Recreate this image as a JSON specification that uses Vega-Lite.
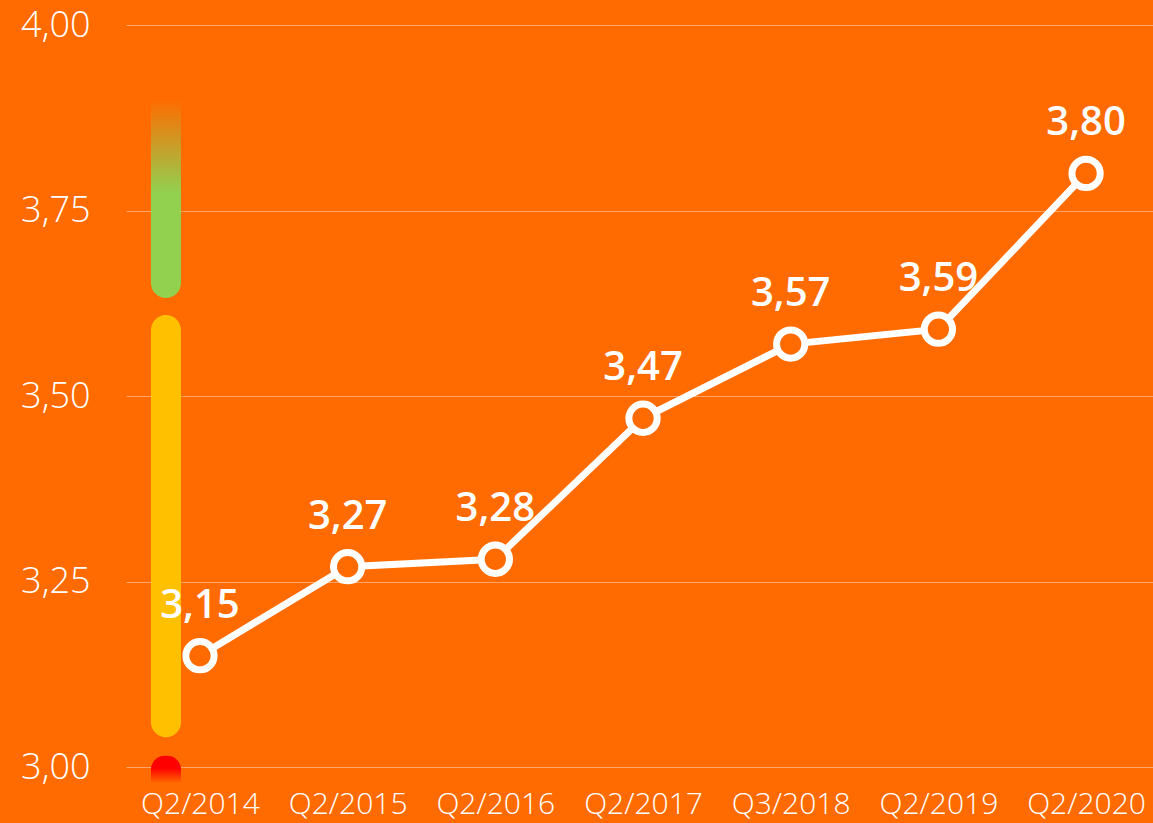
{
  "$schema": "https://vega.github.io/schema/vega-lite/v6.json",
  "width": 1027,
  "height": 742,
  "autosize": {"type": "none"},
  "padding": {"left": 126, "top": 25, "right": 0, "bottom": 56},
  "background": "#FF6B00",
  "config": {
    "view": {"stroke": null},
    "locale": {"number": {"decimal": ",", "thousands": ".", "grouping": [3], "currency": ["", " €"]}},
    "font": "Open Sans"
  },
  "datasets": {
    "main": [
      {"period": "Q2/2014", "value": 3.15},
      {"period": "Q2/2015", "value": 3.27},
      {"period": "Q2/2016", "value": 3.28},
      {"period": "Q2/2017", "value": 3.47},
      {"period": "Q3/2018", "value": 3.57},
      {"period": "Q2/2019", "value": 3.59},
      {"period": "Q2/2020", "value": 3.80}
    ]
  },
  "encoding": {
    "x": {
      "field": "period", "type": "ordinal", "sort": null,
      "scale": {"type": "point", "padding": 0.477, "align": 0.525},
      "axis": {
        "title": null, "domain": false, "ticks": false, "grid": false,
        "labelAngle": 0, "labelColor": "#FFFFFF", "labelFontSize": 30,
        "labelFont": "Open Sans", "labelFontWeight": 300, "labelPadding": 22,
        "labelBaseline": "top"
      }
    }
  },
  "layer": [
    {
      "data": {"values": [{"period": "Q2/2014", "lo": 3.632, "hi": 3.90}]},
      "mark": {
        "type": "bar", "width": 30, "xOffset": -34,
        "cornerRadiusBottomLeft": 15, "cornerRadiusBottomRight": 15,
        "color": {
          "gradient": "linear", "x1": 0, "y1": 0, "x2": 0, "y2": 1,
          "stops": [
            {"offset": 0, "color": "#FF6B00"},
            {"offset": 0.47, "color": "#92D050"},
            {"offset": 1, "color": "#92D050"}
          ]
        }
      },
      "encoding": {
        "y": {"field": "lo", "type": "quantitative"},
        "y2": {"field": "hi"}
      }
    },
    {
      "data": {"values": [{"period": "Q2/2014", "lo": 3.04, "hi": 3.609}]},
      "mark": {"type": "bar", "width": 30, "xOffset": -34, "cornerRadius": 15, "color": "#FFC000"},
      "encoding": {
        "y": {"field": "lo", "type": "quantitative"},
        "y2": {"field": "hi"}
      }
    },
    {
      "data": {"values": [{"period": "Q2/2014", "lo": 2.978, "hi": 3.015}]},
      "mark": {
        "type": "bar", "width": 30, "xOffset": -34,
        "cornerRadiusTopLeft": 15, "cornerRadiusTopRight": 15,
        "color": {
          "gradient": "linear", "x1": 0, "y1": 0, "x2": 0, "y2": 1,
          "stops": [
            {"offset": 0, "color": "#FF0000"},
            {"offset": 0.45, "color": "#FF0000"},
            {"offset": 1, "color": "#FF6B00"}
          ]
        }
      },
      "encoding": {
        "y": {"field": "lo", "type": "quantitative"},
        "y2": {"field": "hi"}
      }
    },
    {
      "data": {"name": "main"},
      "mark": {"type": "line", "color": "#FFFFFF", "strokeWidth": 7},
      "encoding": {
        "y": {
          "field": "value", "type": "quantitative",
          "scale": {"domain": [3, 4], "nice": false, "zero": false},
          "axis": {
            "title": null, "domain": false, "ticks": false,
            "values": [3, 3.25, 3.5, 3.75, 4], "format": ".2f",
            "labelColor": "#FFFFFF", "labelFontSize": 36, "labelFont": "Open Sans",
            "labelFontWeight": 300, "labelPadding": 36,
            "gridColor": "#FFFFFF", "gridOpacity": 0.4, "gridWidth": 1
          }
        }
      }
    },
    {
      "data": {"name": "main"},
      "mark": {"type": "point", "shape": "circle", "size": 800, "filled": true, "fill": "#FF6B00", "stroke": "#FFFFFF", "strokeWidth": 7, "opacity": 1},
      "encoding": {"y": {"field": "value", "type": "quantitative"}}
    },
    {
      "data": {"name": "main"},
      "mark": {"type": "text", "color": "#FFFFFF", "fontSize": 40, "fontWeight": 600, "font": "Open Sans", "baseline": "alphabetic", "dy": -38},
      "encoding": {
        "y": {"field": "value", "type": "quantitative"},
        "text": {"field": "value", "type": "quantitative", "format": ".2f"}
      }
    }
  ]
}
